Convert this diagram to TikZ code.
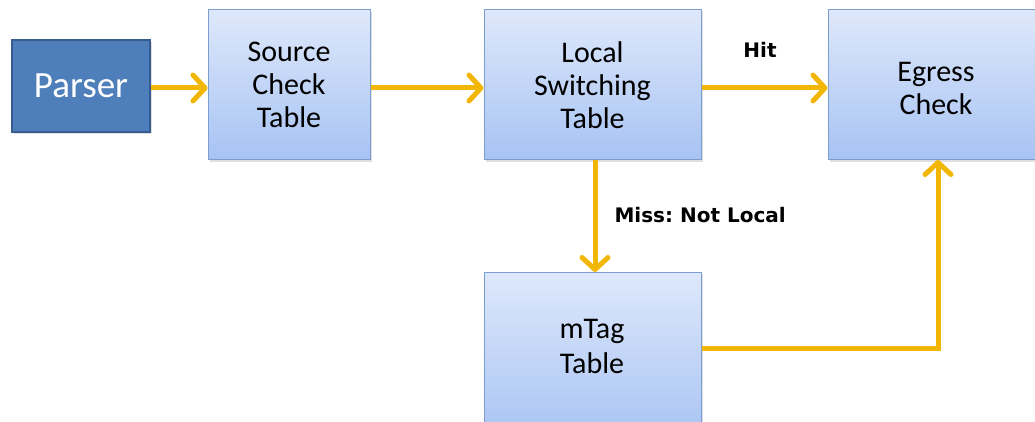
\documentclass[tikz,border=0pt]{standalone}
\usepackage{fontspec}
\setmainfont{Carlito}
\newfontfamily\lblfont{DejaVu Sans}
\usetikzlibrary{arrows.meta,shadows}
\definecolor{gold}{HTML}{F2B705}
\definecolor{boxtop}{HTML}{DEE8FB}
\definecolor{boxbot}{HTML}{A7C3F3}
\definecolor{boxline}{HTML}{7C9DD0}
\definecolor{parserfill}{HTML}{4F7FBB}
\definecolor{parserline}{HTML}{375C8F}
\frenchspacing
\tikzset{
  x=1pt, y=-1pt,
  tablebox/.style={draw=boxline, line width=1pt, top color=boxtop, bottom color=boxbot,
    drop shadow={shadow xshift=2pt, shadow yshift=-2pt, opacity=0.25},
    align=center, font=\fontsize{30}{33}\selectfont, text=black, inner sep=0pt},
  parserbox/.style={draw=parserline, line width=2.5pt, fill=parserfill,
    drop shadow={shadow xshift=2pt, shadow yshift=-2pt, opacity=0.25},
    font=\fontsize{37}{40}\selectfont, text=white, inner sep=0pt},
  flow/.style={draw=gold, line width=5pt,
    -{Straight Barb[length=12pt,width=26pt,line width=5pt,round]}},
  lbl/.style={font=\lblfont\bfseries\fontsize{20}{24}\selectfont, text=black}
}
\begin{document}
\begin{tikzpicture}
\clip (0,0) rectangle (1035,422);
\fill[white] (0,0) rectangle (1035,422);
\node[parserbox, minimum width=138pt, minimum height=92pt] (parser) at (81,86) {Parser};
\node[tablebox, minimum width=162pt, minimum height=150pt] (src) at (289,85) {Source\\Check\\Table};
\node[tablebox, minimum width=217pt, minimum height=150pt] (lst) at (592.5,85) {Local\\Switching\\Table};
\node[tablebox, minimum width=214pt, minimum height=150pt, text depth=0pt] (egr) at (935,85) {};
\node[font=\fontsize{30}{33}\selectfont, align=center] (egrt) at (936,88) {Egress\\Check};
\node[tablebox, minimum width=217pt, minimum height=170pt] (mtag) at (592.5,357) {};
\node[font=\fontsize{30}{35}\selectfont, align=center] (mtagt) at (592,346) {mTag\\Table};
\coordinate (p1) at (parser.east |- 0,88);
\coordinate (s1) at (src.west |- 0,88);
\coordinate (s2) at (src.east |- 0,88);
\coordinate (l1) at (lst.west |- 0,88);
\coordinate (l2) at (lst.east |- 0,88);
\coordinate (e1) at (egr.west |- 0,88);
\coordinate (lb) at (595,160);
\coordinate (mt) at (595,272);
\coordinate (m1) at (mtag.east |- 0,348);
\coordinate (eb) at (938,160);
\draw[flow] (p1) -- (s1);
\draw[flow] (s2) -- (l1);
\draw[flow] (l2) -- (e1);
\draw[flow] (lb) -- (mt);
\draw[flow] (m1) -| (eb);
\node[lbl] (hit) at (760,50) {Hit};
\node[lbl, anchor=west] (miss) at (611,215) {Miss: Not Local};
\end{tikzpicture}
\end{document}
